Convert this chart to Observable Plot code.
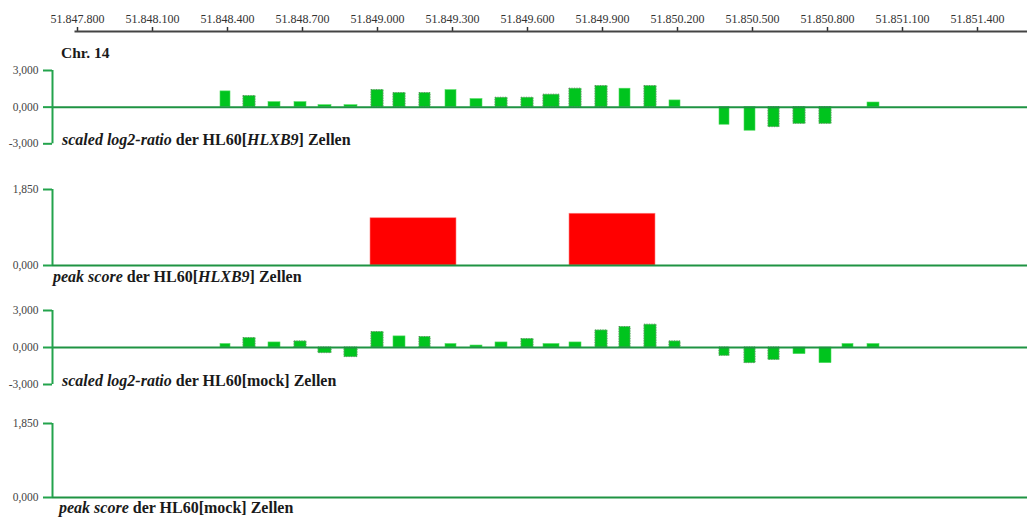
<!DOCTYPE html>
<html>
<head>
<meta charset="utf-8">
<script src="https://cdn.jsdelivr.net/npm/d3@7"></script>
<script src="https://cdn.jsdelivr.net/npm/@observablehq/plot@0.6"></script>
<style>
  html, body { margin: 0; padding: 0; background: #fff; }
  #chart { position: relative; width: 1027px; height: 517px; overflow: hidden; font-family: "Liberation Serif", "Times New Roman", Times, "DejaVu Serif", serif; }
  #chart svg { position: absolute; left: 0; }
  .lbl { position: absolute; font-weight: bold; font-size: 16px; color: #1a1a1a; white-space: nowrap; line-height: 18px; }
</style>
</head>
<body>
<div id="chart"></div>
<script>
// Genomic window on chromosome 14 (bp)
const regionStart = 51847700;
const regionEnd = 51851600;
const rulerStart = 51847790;
const genomeTicks = [51847800, 51848100, 51848400, 51848700, 51849000, 51849300, 51849600,
                     51849900, 51850200, 51850500, 51850800, 51851100, 51851400];

// Tiling-array probes (start / end in bp)
const probeStart = [51848372, 51848464, 51848564, 51848668, 51848764, 51848868, 51848976, 51849064, 51849168,
                    51849272, 51849372, 51849472, 51849576, 51849664, 51849768, 51849872, 51849968, 51850068,
                    51850168, 51850368, 51850468, 51850564, 51850664, 51850768, 51850860, 51850960];
const probeEnd   = [51848412, 51848512, 51848612, 51848716, 51848816, 51848920, 51849024, 51849112, 51849212,
                    51849316, 51849420, 51849520, 51849624, 51849728, 51849816, 51849920, 51850012, 51850116,
                    51850212, 51850408, 51850512, 51850608, 51850712, 51850816, 51850904, 51851008];

// scaled log2-ratios per probe
const ratioHLXB9 = [1.29, 0.90, 0.41, 0.41, 0.16, 0.16, 1.39, 1.15, 1.15, 1.39, 0.66, 0.77, 0.77,
                    1.02, 1.51, 1.72, 1.51, 1.72, 0.55, -1.44, -1.93, -1.64, -1.36, -1.36, null, 0.38];
const ratioMock  = [0.28, 0.76, 0.41, 0.49, -0.46, -0.78, 1.25, 0.90, 0.85, 0.28, 0.16, 0.41, 0.68,
                    0.28, 0.41, 1.38, 1.66, 1.85, 0.49, -0.67, -1.27, -1.00, -0.54, -1.27, 0.28, 0.28];

// probes with overlapping replicate signal (dotted outline)
const dottedHLXB9 = [1, 6, 7, 8, 11, 12, 13, 14, 15, 17, 21, 22, 23];
const dottedMock  = [1, 3, 4, 5, 6, 8, 12, 15, 16, 17, 18, 19, 20, 21];

// called peaks
const peakStartHLXB9 = [51848972, 51849768];
const peakEndHLXB9   = [51849316, 51850112];
const peakScoreHLXB9 = [1.15, 1.26];
const peakStartMock = [];
const peakEndMock   = [];
const peakScoreMock = [];

const ratioTicks = [-3, 0, 3];
const peakTicks = [0, 1.85];

const de = d3.formatLocale({decimal: ",", thousands: ".", grouping: [3], currency: ["", " €"], minus: "-"});
const fmtPos = de.format(",d");
const fmtVal = de.format(".3f");

const green = "#00c41e";
const axisGreen = "#23a34c";
const W = 1027;
const serif = "'Liberation Serif', 'Times New Roman', Times, 'DejaVu Serif', serif";
const chart = document.getElementById("chart");
const baseStyle = {fontFamily: serif, fontSize: "11.5px", color: "#333", background: "transparent"};

function place(svg, top) {
  svg.style.top = top + "px";
  chart.appendChild(svg);
}
function label(html, left, top, size) {
  const d = document.createElement("div");
  d.className = "lbl";
  d.innerHTML = html;
  d.style.left = left + "px";
  d.style.top = top + "px";
  if (size) d.style.fontSize = size + "px";
  chart.appendChild(d);
}

// ruler
place(Plot.plot({
  width: W, height: 40, marginLeft: 52, marginRight: 0, marginTop: 31, marginBottom: 9,
  style: {...baseStyle, fontSize: "12px"},
  x: {domain: [regionStart, regionEnd], axis: null},
  y: {domain: [0, 1], axis: null},
  marks: [
    Plot.axisX({anchor: "top", ticks: genomeTicks, tickFormat: fmtPos, tickSize: 5, tickPadding: 4,
                stroke: "#333", strokeWidth: 1.5, fill: "#333", label: null}),
    Plot.ruleY([1], {x1: rulerStart, x2: regionEnd, stroke: "#444", strokeWidth: 2})
  ]
}), 0);

function ratioTrack(values, dotted, top, height, mt, mb) {
  const rows = probeStart.map((s, i) => ({start: s, end: probeEnd[i], v: values[i], dotted: dotted.includes(i)}))
    .filter(d => d.v != null);
  return place(Plot.plot({
    width: W, height, marginLeft: 52, marginRight: 0, marginTop: mt, marginBottom: mb,
    style: baseStyle,
    x: {domain: [regionStart, regionEnd], axis: null},
    y: {domain: [-3, 3], axis: null},
    marks: [
      Plot.rect(rows, {x1: "start", x2: "end", y1: 0, y2: "v", fill: green, stroke: "#4fdc5f", strokeWidth: 0.6}),
      Plot.rect(rows.filter(d => d.dotted), {x1: "start", x2: "end", y1: 0, y2: "v", fill: "none",
        stroke: "#666", strokeWidth: 0.8, strokeDasharray: "1,1.5"}),
      Plot.ruleY([0], {stroke: "#1f9343", strokeWidth: 2}),
      Plot.ruleX([regionStart], {y1: -3, y2: 3, stroke: axisGreen, strokeWidth: 2}),
      Plot.axisY({ticks: ratioTicks, tickFormat: fmtVal, tickSize: 9, tickPadding: 5,
                  stroke: axisGreen, strokeWidth: 2, fill: "#444", label: null})
    ]
  }), top);
}

function peakTrack(starts, ends, scores, top, height, mt, mb) {
  const rows = starts.map((s, i) => ({start: s, end: ends[i], v: scores[i]}));
  return place(Plot.plot({
    width: W, height, marginLeft: 52, marginRight: 0, marginTop: mt, marginBottom: mb,
    style: baseStyle,
    x: {domain: [regionStart, regionEnd], axis: null},
    y: {domain: [0, 1.85], axis: null},
    marks: [
      Plot.rect(rows, {x1: "start", x2: "end", y1: 0, y2: "v", fill: "#ff0000", stroke: "#ff8080", strokeWidth: 0.6}),
      Plot.ruleY([0], {stroke: "#1f9343", strokeWidth: 2}),
      Plot.ruleX([regionStart], {y1: 0, y2: 1.85, stroke: axisGreen, strokeWidth: 2}),
      Plot.axisY({ticks: peakTicks, tickFormat: fmtVal, tickSize: 9, tickPadding: 5,
                  stroke: axisGreen, strokeWidth: 2, fill: "#444", label: null})
    ]
  }), top);
}

ratioTrack(ratioHLXB9, dottedHLXB9, 58, 95, 12, 9.7);
peakTrack(peakStartHLXB9, peakEndHLXB9, peakScoreHLXB9, 180, 92, 9, 7);
ratioTrack(ratioMock, dottedMock, 300, 90, 10, 6);
peakTrack(peakStartMock, peakEndMock, peakScoreMock, 414, 90, 9, 7);

label("Chr. 14", 61, 44, 15.5);
label("<i>scaled log2-ratio</i> der HL60[<i>HLXB9</i>] Zellen", 62, 131);
label("<i>peak score</i> der HL60[<i>HLXB9</i>] Zellen", 53, 268);
label("<i>scaled log2-ratio</i> der HL60[mock] Zellen", 62, 372);
label("<i>peak score</i> der HL60[mock] Zellen", 59, 499);
</script>
</body>
</html>
